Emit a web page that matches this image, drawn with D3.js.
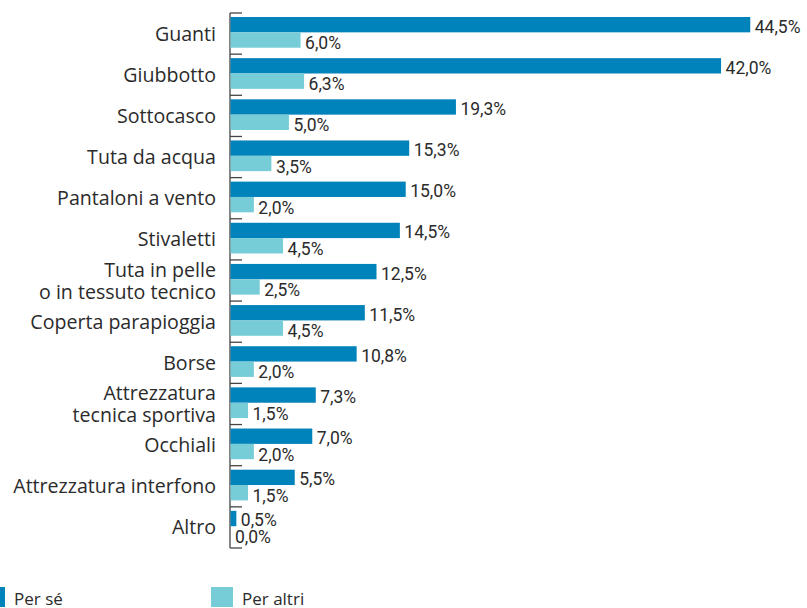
<!DOCTYPE html>
<html>
<head>
<meta charset="utf-8">
<script src="https://cdn.jsdelivr.net/npm/d3@7"></script>
<style>
  html, body { margin: 0; padding: 0; background: #fff; }
  svg { display: block; }
  .cat { font-family: "Open Sans", sans-serif; font-size: 19.6px; fill: #2b2b2b; }
  .val { font-family: Roboto, "Open Sans", sans-serif; font-size: 17.5px; fill: #2b2b2b; }
  .leg { font-family: "Open Sans", sans-serif; font-size: 17px; fill: #2b2b2b; }
</style>
</head>
<body>
<svg id="chart" width="807" height="608"></svg>
<script>
// Categories (line breaks mark two-line labels)
const categories = [
  "Guanti", "Giubbotto", "Sottocasco", "Tuta da acqua", "Pantaloni a vento",
  "Stivaletti", "Tuta in pelle\no in tessuto tecnico", "Coperta parapioggia",
  "Borse", "Attrezzatura\ntecnica sportiva", "Occhiali",
  "Attrezzatura interfono", "Altro"
];
// Share of respondents (%)
const perSe    = [44.5, 42.0, 19.3, 15.3, 15.0, 14.5, 12.5, 11.5, 10.8, 7.3, 7.0, 5.5, 0.5];
const perAltri = [ 6.0,  6.3,  5.0,  3.5,  2.0,  4.5,  2.5,  4.5,  2.0, 1.5, 2.0, 1.5, 0.0];
const seriesNames = ["Per sé", "Per altri"];
const seriesColors = ["#0082ba", "#76cdd8"];

const svg = d3.select("#chart");

const x = d3.scaleLinear().domain([0, 45]).range([230, 230 + 45 * 11.68]);
const y = d3.scaleBand().domain(categories).range([13, 548]).padding(0);
const inner = d3.scaleBand().domain(seriesNames)
  .range([4, 34.7]).padding(0);

const it = d3.formatLocale({ decimal: ",", thousands: ".", grouping: [3], currency: ["", "€"] });
const fmt = v => it.format(".1f")(v) + "%";

const rows = categories.map((c, i) => ({
  cat: c,
  vals: [
    { s: seriesNames[0], v: perSe[i], color: seriesColors[0] },
    { s: seriesNames[1], v: perAltri[i], color: seriesColors[1] }
  ]
}));

// Category axis: vertical line with ticks at band boundaries pointing inward
const axisG = svg.append("g");
axisG.append("line")
  .attr("x1", 230).attr("x2", 230)
  .attr("y1", y.range()[0]).attr("y2", y.range()[1])
  .attr("stroke", "#444").attr("stroke-width", 1.3);
const bounds = categories.map(c => y(c)).concat([y.range()[1]]);
axisG.selectAll("line.tick").data(bounds).join("line")
  .attr("class", "tick")
  .attr("x1", 230).attr("x2", 242)
  .attr("y1", d => d).attr("y2", d => d)
  .attr("stroke", "#444").attr("stroke-width", 1.3);

// Bars
const groups = svg.append("g").selectAll("g").data(rows).join("g")
  .attr("transform", d => `translate(0,${y(d.cat)})`);

groups.selectAll("rect").data(d => d.vals).join("rect")
  .attr("x", x(0) + 0.5)
  .attr("y", d => inner(d.s))
  .attr("width", d => x(d.v) - x(0))
  .attr("height", inner.bandwidth())
  .attr("fill", d => d.color);

groups.selectAll("text.val").data(d => d.vals).join("text")
  .attr("class", "val")
  .attr("x", d => x(d.v) + 5)
  .attr("y", d => inner(d.s) + inner.bandwidth() + (d.s === seriesNames[0] ? 0.3 : 1.5))
  .text(d => fmt(d.v));

// Category labels
const labels = svg.append("g").selectAll("text").data(categories).join("text")
  .attr("class", "cat")
  .attr("text-anchor", "end")
  .attr("x", 216)
  .attr("y", d => y(d) + y.bandwidth() / 2);
labels.each(function (d) {
  const lines = d.split("\n");
  const t = d3.select(this);
  const lh = 22;
  lines.forEach((ln, k) => {
    t.append("tspan")
      .attr("x", 216)
      .attr("y", y(d) + y.bandwidth() / 2 + (k - (lines.length - 1) / 2) * lh)
      .attr("dy", "0.36em")
      .text(ln);
  });
});

// Legend
const legendX = [-17, 211];
const legend = svg.append("g").selectAll("g").data(seriesNames).join("g")
  .attr("transform", (d, i) => `translate(${legendX[i]},587)`);
legend.append("rect")
  .attr("width", 22).attr("height", 20)
  .attr("fill", (d, i) => seriesColors[i]);
legend.append("text")
  .attr("class", "leg")
  .attr("x", 31).attr("y", 18)
  .text(d => d);
</script>
</body>
</html>
